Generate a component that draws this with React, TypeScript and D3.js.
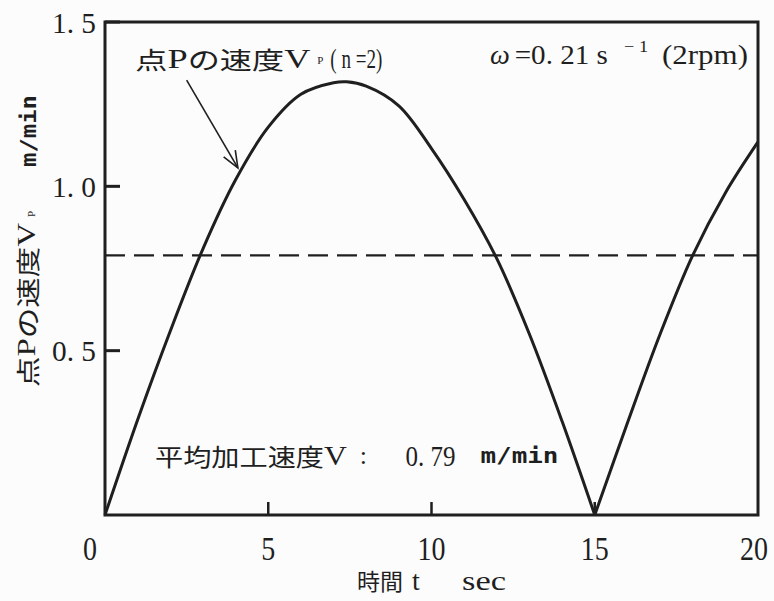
import React from 'react';
import * as d3 from 'd3';

// Speed of point P over time (n = 2, ω = 0.21 s⁻¹)
const times = [0, 1, 2, 3, 4, 5, 6, 7, 7.4, 8, 9, 10, 11, 12, 13, 14, 15, 16, 17, 18, 19, 20];
const speeds = [0, 0.29, 0.56, 0.81, 1.02, 1.18, 1.28, 1.315, 1.318, 1.305, 1.245, 1.115, 0.96, 0.78, 0.55, 0.285, 0, 0.28, 0.55, 0.79, 0.98, 1.135];
const meanSpeed = 0.79;

const xTicks = [0, 5, 10, 15, 20];
const xTickLabels = ['0', '5', '10', '15', '20'];
const yTicks = [0.5, 1.0, 1.5];
const yTickLabels = ['0. 5', '1. 0', '1. 5'];

const W = 774;
const H = 601;
const plot = { left: 105, right: 758, top: 22, bottom: 515 };

const INK = '#1f1f1f';
const SERIF = "'Liberation Serif', 'Noto Sans CJK JP', serif";
const CJK = "'Noto Sans CJK JP', 'Liberation Serif', sans-serif";
const MONO = "'DejaVu Sans Mono', monospace";

export default function App() {
  const x = d3.scaleLinear().domain([0, 20]).range([plot.left, plot.right]);
  const y = d3.scaleLinear().domain([0, 1.5]).range([plot.bottom, plot.top]);

  // split the curve into arcs at interior zero points (cusps)
  const arcs: { t: number; v: number }[][] = [];
  let cur: { t: number; v: number }[] = [];
  times.forEach((t, i) => {
    const p = { t, v: speeds[i] };
    cur.push(p);
    if (speeds[i] === 0 && i > 0 && i < times.length - 1) {
      arcs.push(cur);
      cur = [p];
    }
  });
  arcs.push(cur);

  const line = d3
    .line<{ t: number; v: number }>()
    .x((d) => x(d.t))
    .y((d) => y(d.v))
    .curve(d3.curveCatmullRom.alpha(0.5));

  // annotation arrow (data units)
  const arrowFrom = { t: 2.5, v: 1.323 };
  const arrowTo = { t: 4.07, v: 1.056 };
  const ax0 = x(arrowFrom.t), ay0 = y(arrowFrom.v);
  const ax1 = x(arrowTo.t), ay1 = y(arrowTo.v);
  const ang = Math.atan2(ay0 - ay1, ax0 - ax1);
  const headLen = 18;
  const headSpread = (22 * Math.PI) / 180;
  const head = [ang - headSpread, ang + headSpread].map((a) => [
    ax1 + headLen * Math.cos(a),
    ay1 + headLen * Math.sin(a),
  ]);

  return (
    <div style={{ position: 'absolute', left: 0, top: 0 }}>
      <svg width={W} height={H} viewBox={`0 0 ${W} ${H}`} style={{ display: 'block', background: '#fcfcfc' }}>
        {/* mean speed */}
        <line
          x1={x(0)}
          x2={x(20)}
          y1={y(meanSpeed)}
          y2={y(meanSpeed)}
          stroke={INK}
          strokeWidth={2.4}
          strokeDasharray="20 9"
        />

        {/* speed curve */}
        {arcs.map((a, i) => (
          <path key={i} d={line(a) || ''} fill="none" stroke={INK} strokeWidth={3} strokeLinejoin="round" />
        ))}

        {/* frame */}
        <rect
          x={x(0)}
          y={y(1.5)}
          width={x(20) - x(0)}
          height={y(0) - y(1.5)}
          fill="none"
          stroke={INK}
          strokeWidth={3}
        />

        {/* y ticks */}
        {yTicks.map((v, i) => (
          <g key={'yt' + i}>
            <line x1={x(0)} x2={x(0) + 15} y1={y(v)} y2={y(v)} stroke={INK} strokeWidth={3} />
            <text
              x={52}
              y={y(v)}
              dominantBaseline="central"
              fontFamily={SERIF}
              fontSize={30}
              textLength={44}
              lengthAdjust="spacingAndGlyphs"
              fill={INK}
            >
              {yTickLabels[i]}
            </text>
          </g>
        ))}

        {/* x ticks */}
        {xTicks.map((t, i) => {
          const cx = t === 0 ? x(t) - 15 : t === 20 ? x(t) - 4 : x(t);
          const w = xTickLabels[i].length * 14;
          return (
            <g key={'xt' + i}>
              {t > 0 && t < 20 && (
                <line x1={x(t)} x2={x(t)} y1={y(0)} y2={y(0) - 13} stroke={INK} strokeWidth={2.5} />
              )}
              <text
                x={cx - w / 2}
                y={548}
                dominantBaseline="central"
                fontFamily={SERIF}
                fontSize={34}
                textLength={w}
                lengthAdjust="spacingAndGlyphs"
                fill={INK}
              >
                {xTickLabels[i]}
              </text>
            </g>
          );
        })}

        {/* x axis title */}
        <text x={357} y={580} dominantBaseline="central" fontFamily={CJK} fontSize={23} textLength={46} lengthAdjust="spacingAndGlyphs" fill={INK}>
          時間
        </text>
        <text x={412} y={580} dominantBaseline="central" fontFamily={SERIF} fontSize={28} fill={INK}>
          t
        </text>
        <text x={462} y={580} dominantBaseline="central" fontFamily={SERIF} fontSize={28} textLength={44} lengthAdjust="spacingAndGlyphs" fill={INK}>
          sec
        </text>

        {/* y axis title */}
        <g transform="translate(26, 387) rotate(-90)">
          <text x={0} y={0} dominantBaseline="central" fontFamily={CJK} fontSize={24} textLength={164} lengthAdjust="spacingAndGlyphs" fill={INK}>
            点<tspan fontFamily={SERIF} fontSize={26}>P</tspan>の速度<tspan fontFamily={SERIF} fontSize={26}>V</tspan>
          </text>
          <text x={170} y={5} dominantBaseline="central" fontFamily={SERIF} fontSize={11} fill={INK}>
            P
          </text>
          <text x={220} y={2} dominantBaseline="central" fontFamily={MONO} fontWeight="bold" fontSize={22} textLength={72} lengthAdjust="spacingAndGlyphs" fill={INK}>
            m/min
          </text>
        </g>

        {/* curve label */}
        <text x={x(0.93)} y={y(1.388)} dominantBaseline="central" fontFamily={CJK} fontSize={24} textLength={175} lengthAdjust="spacingAndGlyphs" fill={INK}>
          点<tspan fontFamily={SERIF} fontSize={27}>P</tspan>の速度<tspan fontFamily={SERIF} fontSize={27}>V</tspan>
        </text>
        <text x={x(6.5)} y={y(1.388) + 1} dominantBaseline="central" fontFamily={SERIF} fontSize={11} fill={INK}>
          P
        </text>
        <text x={x(6.9)} y={y(1.388)} dominantBaseline="central" fontFamily={SERIF} fontSize={28} textLength={52} lengthAdjust="spacingAndGlyphs" fill={INK}>
          ( n =2)
        </text>
        <line x1={ax0} y1={ay0} x2={ax1} y2={ay1} stroke={INK} strokeWidth={1.6} />
        <polyline
          points={`${head[0][0]},${head[0][1]} ${ax1},${ay1} ${head[1][0]},${head[1][1]}`}
          fill="none"
          stroke={INK}
          strokeWidth={1.6}
        />

        {/* rotation speed note */}
        <text x={x(11.79)} y={y(1.4)} dominantBaseline="central" fontFamily={SERIF} fontSize={28} fontStyle="italic" fill={INK}>
          ω
        </text>
        <text x={x(12.55)} y={y(1.4)} dominantBaseline="central" fontFamily={SERIF} fontSize={28} textLength={93} lengthAdjust="spacingAndGlyphs" fill={INK}>
          =0. 21 s
        </text>
        <text x={x(15.9)} y={y(1.4) - 8} dominantBaseline="central" fontFamily={SERIF} fontSize={16} textLength={24} lengthAdjust="spacingAndGlyphs" fill={INK}>
          − 1
        </text>
        <text x={x(17.06)} y={y(1.4)} dominantBaseline="central" fontFamily={SERIF} fontSize={28} textLength={86} lengthAdjust="spacingAndGlyphs" fill={INK}>
          (2rpm)
        </text>

        {/* mean machining speed note */}
        <text x={x(1.53)} y={y(0.18)} dominantBaseline="central" fontFamily={CJK} fontSize={24} textLength={192} lengthAdjust="spacingAndGlyphs" fill={INK}>
          平均加工速度<tspan fontFamily={SERIF} fontSize={27}>V</tspan>
        </text>
        <text x={x(7.8)} y={y(0.18)} dominantBaseline="central" fontFamily={SERIF} fontSize={26} fill={INK}>
          :
        </text>
        <text x={x(9.2)} y={y(0.18)} dominantBaseline="central" fontFamily={SERIF} fontSize={30} textLength={50} lengthAdjust="spacingAndGlyphs" fill={INK}>
          0. 79
        </text>
        <text x={x(11.5)} y={y(0.18)} dominantBaseline="central" fontFamily={MONO} fontWeight="bold" fontSize={22} textLength={78} lengthAdjust="spacingAndGlyphs" fill={INK}>
          m/min
        </text>
      </svg>
    </div>
  );
}
